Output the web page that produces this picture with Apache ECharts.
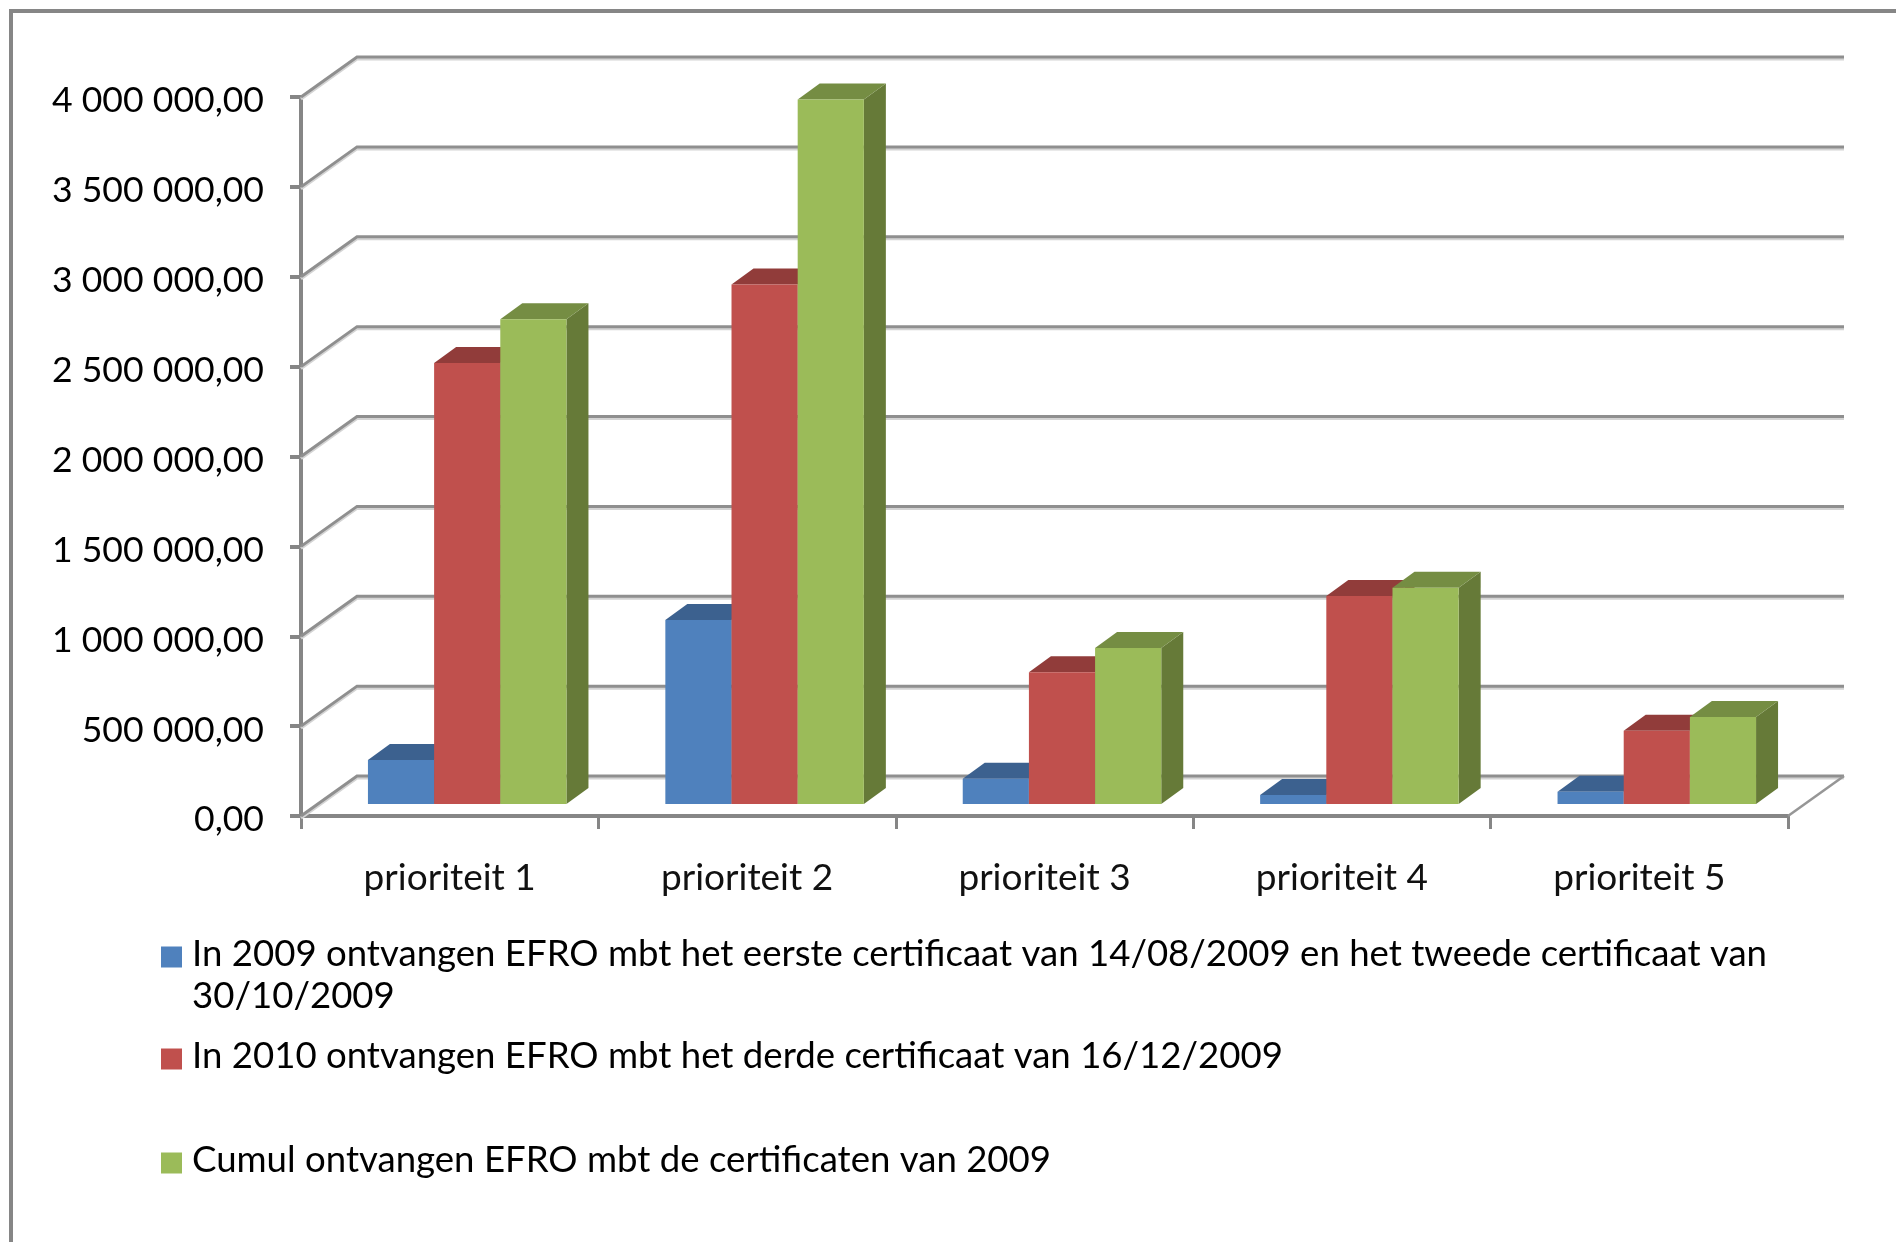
<!DOCTYPE html>
<html>
<head>
<meta charset="utf-8">
<style>html,body{margin:0;padding:0;background:#fff}#c{width:1896px;height:1242px}</style>
<script src="https://cdn.jsdelivr.net/npm/echarts@6/dist/echarts.min.js"></script>
</head>
<body>
<div id="c"></div>
<script>
const categories = ['prioriteit 1','prioriteit 2','prioriteit 3','prioriteit 4','prioriteit 5'];
const seriesNames = [
  'In 2009 ontvangen EFRO mbt het eerste certificaat van 14/08/2009 en het tweede certificaat van 30/10/2009',
  'In 2010 ontvangen EFRO mbt het derde certificaat van 16/12/2009',
  'Cumul ontvangen EFRO mbt de certificaten van 2009'
];
const values2009 = [245000, 1023000, 140000, 50000, 68000];
const values2010 = [2453000, 2890000, 733000, 1157000, 408000];
const valuesCumul = [2697000, 3920000, 868000, 1203000, 484000];
const yTicks = [0,500000,1000000,1500000,2000000,2500000,3000000,3500000,4000000];
const frontColors = ['#4F81BD','#C0504D','#9BBB59'];
const topColors = ['#3C618F','#913C3A','#758D43'];
const sideColors = ['#35567F','#803533','#667A38'];
const FONT = 'Lato';

const WALL_DX = 56, WALL_DY = -40;
const BAR_SHIFT_X = 17.5, BAR_SHIFT_Y = -12;
const BAR_DX = 22, BAR_DY = -16;
const BAR_FRACTION = 0.2225;

function fmt(v){
  const s = String(Math.round(v)).replace(/\B(?=(\d{3})+$)/g,' ');
  return '{a|' + s + ',00}';
}

function wallItem(params, api){
  const cs = params.coordSys;
  const y = api.coord([0, api.value(0)])[1];
  const x0 = cs.x, x1 = cs.x + cs.width;
  const pts = [[x0,y],[x0+WALL_DX,y+WALL_DY],[x1+WALL_DX,y+WALL_DY]];
  const children = [
    {type:'polyline',shape:{points:pts.map(p=>[p[0],p[1]+2])},style:{fill:null,stroke:'#d4d4d4',lineWidth:3}},
    {type:'polyline',shape:{points:pts},style:{fill:null,stroke:'#8f8f8f',lineWidth:3}}
  ];
  if (api.value(0) === 0) {
    children.push({type:'line',shape:{x1:x1,y1:y,x2:x1+WALL_DX,y2:y+WALL_DY},style:{stroke:'#969696',lineWidth:2.5}});
  }
  return {type:'group',children};
}

function barRenderer(idx){
  return function(params, api){
    const p = api.coord([api.value(0), api.value(1)]);
    const base = api.coord([api.value(0), 0]);
    const w = api.size([1,0])[0] * BAR_FRACTION;
    const xl = p[0] + BAR_SHIFT_X + (idx - 1.5) * w;
    const xr = xl + w;
    const yt = p[1] + BAR_SHIFT_Y;
    const yb = base[1] + BAR_SHIFT_Y;
    return {type:'group',children:[
      {type:'polygon',shape:{points:[[xr,yt],[xr+BAR_DX,yt+BAR_DY],[xr+BAR_DX,yb+BAR_DY],[xr,yb]]},style:{fill:sideColors[idx]}},
      {type:'polygon',shape:{points:[[xl,yt],[xl+BAR_DX,yt+BAR_DY],[xr+BAR_DX,yt+BAR_DY],[xr,yt]]},style:{fill:topColors[idx]}},
      {type:'rect',shape:{x:xl,y:yt,width:w,height:yb-yt},style:{fill:frontColors[idx]}}
    ]};
  };
}

function barSeries(idx, vals){
  return {
    type:'custom', name:seriesNames[idx], coordinateSystem:'cartesian2d', clip:false, silent:true, z:3,
    encode:{x:0,y:1},
    itemStyle:{color:frontColors[idx]},
    renderItem:barRenderer(idx),
    data:vals.map((v,i)=>[i,v])
  };
}

function legendFor(idx, top, text){
  return {
    show:true, data:[seriesNames[idx]], left:161, top:top, padding:0,
    orient:'vertical', icon:'rect', itemWidth:21, itemHeight:21,
    selectedMode:false,
    formatter:()=>'{a|' + text + '}',
    textStyle:{fontFamily:FONT,fontSize:36.6,color:'#000',
      rich:{a:{fontFamily:FONT,fontSize:36.6,color:'#000',padding:[0,0,5,5]}}}
  };
}

const chart = echarts.init(document.getElementById('c'),null,{renderer:'canvas'});
chart.setOption({
  animation:false,
  backgroundColor:'#fff',
  grid:{left:301,top:97,width:1487,height:719,containLabel:false},
  xAxis:{
    type:'category',data:categories,
    axisLine:{lineStyle:{color:'#868686',width:4}},
    axisTick:{show:true,length:13,lineStyle:{color:'#868686',width:3}},
    axisLabel:{fontFamily:FONT,fontSize:37,color:'#111',margin:44,interval:0}
  },
  yAxis:{
    type:'value',min:0,max:4000000,interval:500000,
    splitLine:{show:false},
    axisLine:{show:true,lineStyle:{color:'#868686',width:4}},
    axisTick:{show:true,length:11,lineStyle:{color:'#868686',width:4}},
    axisLabel:{fontFamily:FONT,fontSize:35.6,color:'#000',margin:37,formatter:fmt,
      rich:{a:{fontFamily:FONT,fontSize:35.6,color:'#000',padding:[8,0,0,0]}}}
  },
  legend:[
    legendFor(0, 936, 'In 2009 ontvangen EFRO mbt het eerste certificaat van 14/08/2009 en het tweede certificaat van'),
    legendFor(1, 1038, seriesNames[1]),
    legendFor(2, 1142, seriesNames[2])
  ],
  graphic:[
    {type:'polyline',silent:true,z:-1,shape:{points:[[11,1260],[11,11],[1910,11]]},style:{fill:null,stroke:'#868686',lineWidth:4}},
    {type:'text',silent:true,left:192,top:978,style:{text:'30/10/2009',fontFamily:FONT,fontSize:36.6,fill:'#000'}}
  ],
  series:[
    {type:'custom',name:'wall',coordinateSystem:'cartesian2d',clip:false,silent:true,z:1,
      encode:{y:0},renderItem:wallItem,data:yTicks.map(v=>[v])},
    barSeries(0,values2009),
    barSeries(1,values2010),
    barSeries(2,valuesCumul)
  ]
});
</script>
</body>
</html>
